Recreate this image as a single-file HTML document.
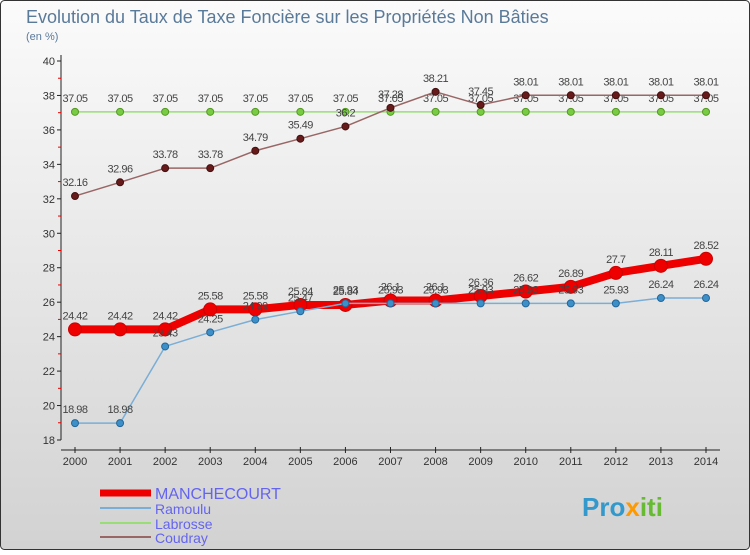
<!DOCTYPE html>
<html><head><meta charset="utf-8"><style>
body{margin:0;width:750px;height:550px;overflow:hidden;font-family:"Liberation Sans",sans-serif}
</style></head><body>
<svg id="chart" width="750" height="550" xmlns="http://www.w3.org/2000/svg">
<defs><linearGradient id="bg" x1="0" y1="0" x2="0" y2="1"><stop offset="0" stop-color="#fbfbfb"/><stop offset="1" stop-color="#d2d2d2"/></linearGradient></defs>
<rect x="0.5" y="0.5" width="749" height="549" rx="4" fill="url(#bg)" stroke="#333"/>
<text x="26" y="23" font-size="18" fill="#5a7a9a">Evolution du Taux de Taxe Foncière sur les Propriétés Non Bâties</text>
<text x="26" y="40" font-size="11" fill="#5a7a9a">(en %)</text>
<g id="axes"></g>
<g id="series"></g>
<g>
<line x1="100" y1="493" x2="151" y2="493" stroke="#e00" stroke-width="7"/>
<text x="155" y="499" font-size="16" fill="#6464f0">MANCHECOURT</text>
<line x1="100" y1="508" x2="151" y2="508" stroke="#7aaed6" stroke-width="2"/>
<text x="155" y="514" font-size="14" fill="#6464f0">Ramoulu</text>
<line x1="100" y1="523" x2="151" y2="523" stroke="#99dd77" stroke-width="2"/>
<text x="155" y="529" font-size="14" fill="#6464f0">Labrosse</text>
<line x1="100" y1="537" x2="151" y2="537" stroke="#996666" stroke-width="2"/>
<text x="155" y="543" font-size="14" fill="#6464f0">Coudray</text>
</g>
<text x="582" y="516" font-size="26" font-weight="bold" fill="#3399cc">Pro<tspan fill="#ff9900">x</tspan><tspan fill="#66bb33">iti</tspan></text>
</svg>
<script>
const years=[2000,2001,2002,2003,2004,2005,2006,2007,2008,2009,2010,2011,2012,2013,2014];
const manchecourt=[24.42,24.42,24.42,25.58,25.58,25.84,25.84,26.1,26.1,26.36,26.62,26.89,27.7,28.11,28.52];
const ramoulu=[18.98,18.98,23.43,24.25,24.99,25.47,25.93,25.93,25.93,25.93,25.93,25.93,25.93,26.24,26.24];
const labrosse=[37.05,37.05,37.05,37.05,37.05,37.05,37.05,37.05,37.05,37.05,37.05,37.05,37.05,37.05,37.05];
const coudray=[32.16,32.96,33.78,33.78,34.79,35.49,36.2,37.28,38.21,37.45,38.01,38.01,38.01,38.01,38.01];
const yTicks=[18,20,22,24,26,28,30,32,34,36,38,40];
const NS="http://www.w3.org/2000/svg";
const X=i=>75+i*(706-75)/(years.length-1);
const Y=v=>440-(v-18)*(440-61)/22;
function mk(t,a,p){const e=document.createElementNS(NS,t);for(const k in a)e.setAttribute(k,a[k]);p.appendChild(e);return e;}
const ax=document.getElementById('axes'), sg=document.getElementById('series');
let l=mk('line',{x1:61,y1:55,x2:61,y2:440,stroke:'#222'},ax);


l=mk('line',{x1:61,y1:450,x2:720,y2:450,stroke:'#222'},ax);


yTicks.forEach(v=>{
 mk('line',{x1:57,y1:Y(v),x2:61,y2:Y(v),stroke:'#222'},ax);
 if(v<40) mk('line',{x1:58,y1:Y(v+1),x2:61,y2:Y(v+1),stroke:'#e00'},ax);
 const t=mk('text',{x:55,y:Y(v)+4,'font-size':11,fill:'#333','text-anchor':'end'},ax);t.textContent=v;
 
 
});
years.forEach((y,i)=>{
 mk('line',{x1:X(i),y1:447,x2:X(i),y2:453,stroke:'#222'},ax);
 const t=mk('text',{x:X(i),y:465,'font-size':11,fill:'#333','text-anchor':'middle'},ax);t.textContent=y;
 
 
});
function series(name,vals,color,w,r,fill,stroke){
 const g=mk('g',{},sg);
 
 
 const p=mk('polyline',{points:vals.map((v,i)=>X(i)+','+Y(v)).join(' '),fill:'none',stroke:color,'stroke-width':w,'stroke-linejoin':'round'},g);
 
 
 vals.forEach((v,i)=>{
  const c=mk('circle',{cx:X(i),cy:Y(v),r:r,fill:fill,stroke:stroke,'stroke-width':1},g);
  
  
  const t=mk('text',{x:X(i),y:Y(v)-10,'font-size':11,fill:'#444','text-anchor':'middle','letter-spacing':'-0.5'},g);
  t.textContent=String(v);
  
  
 });
}
series('labrosse',labrosse,'#99dd77',1.5,3.5,'#77cc44','#559922');
series('coudray',coudray,'#996666',1.5,3.5,'#661a1a','#441010');
series('manchecourt',manchecourt,'#ee0000',8,6.5,'#ee0000','#cc0000');
series('ramoulu',ramoulu,'#7aaed6',1.5,3.5,'#3d8fc8','#22669a');
</script>
</body></html>
